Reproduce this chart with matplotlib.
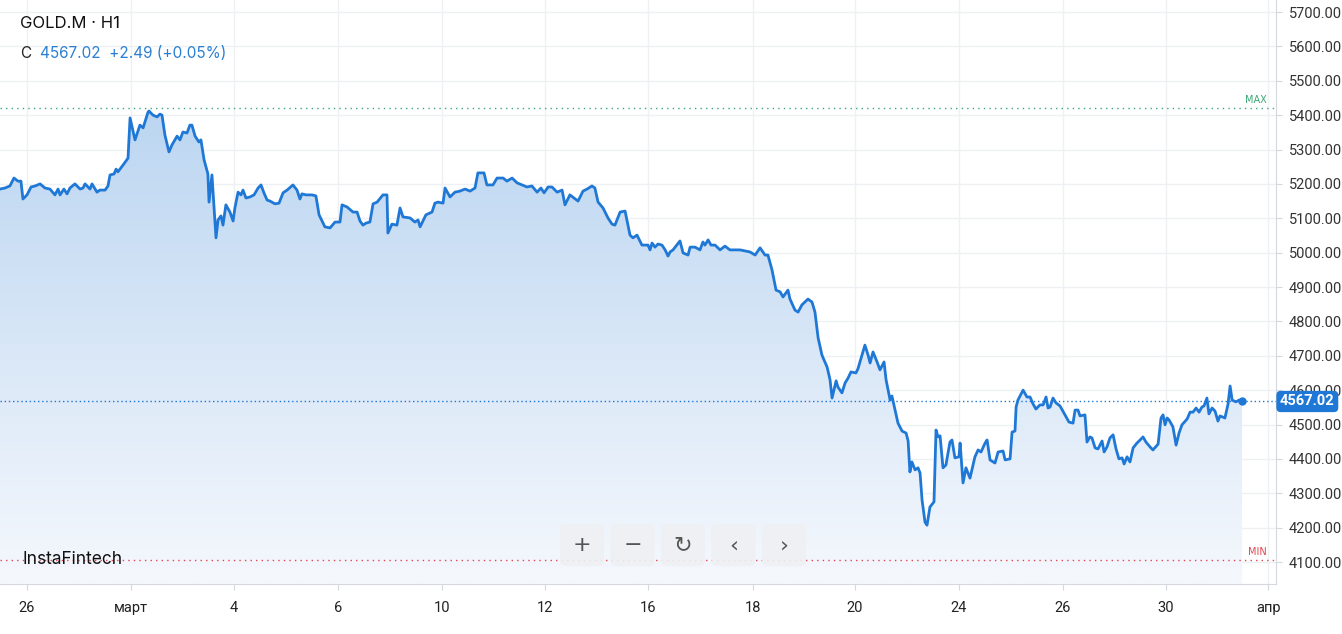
import numpy as np
import matplotlib
matplotlib.use("Agg")
import matplotlib.pyplot as plt
from matplotlib.patches import FancyBboxPatch, Polygon

hours = [0,2.2,4.4,6.2,8,9.3,10.2,12,13.8,15.6,17.8,20,22.2,23.6,24.4,25.8,26.7,28.4,29.8,31.1,33.3,35.6,36.9,37.8,40,40.9,43.1,44.4,46.7,48,48.9,50.7,51.6,52.4,54.7,56.9,57.8,60,62.2,63.6,65.8,66.2,68,69.8,71.1,72,73.3,75.1,76.4,78.7,80,81.3,83.1,84.4,85.3,86.7,88.4,89.3,90.7,92.4,92.9,94.2,96,96.9,98.2,99.1,100.4,102.2,103.6,104.4,105.8,107.1,108,109.3,111.1,112.9,114.7,116,117.3,118.7,120,122.2,124,125.8,127.6,130.2,132,133.3,134.2,136,138.7,140.4,141.8,144.4,146.7,148.9,151.1,152,154.2,156.9,158.7,160,161.3,162.7,164.4,165.8,167.6,170.2,172,172.4,174.2,176.4,177.8,179.1,182.2,184.4,185.8,186.7,189.3,192,193.3,194.7,196.9,197.8,200,202.2,204.4,206.7,208.9,211.1,212.4,215.1,216.4,219.1,220.9,223.6,225.3,227.6,229.8,232,234.2,236.4,238.7,240.4,241.8,243.6,245.3,247.6,249.8,251.1,253.3,255.1,256.9,259.1,260.9,263.1,264.4,265.8,268,270.2,272,273.3,275.6,277.8,280,281.3,283.1,285.3,288,288.9,289.8,291.1,292.4,294.2,295.6,296.9,297.8,299.1,302.2,303.6,305.8,306.7,308.9,311.1,312.4,313.3,314.7,316,317.8,320,322.2,324.4,328.9,333.3,335.6,337.8,340,341.3,343.1,344.9,346.7,348,350.2,351.1,353.3,354.7,356.4,359.1,360.9,362.2,363.6,365.3,367.6,368.9,369.8,371.6,372.4,374.2,375.6,376.9,378.2,380.4,381.3,383.1,384.4,385.8,386.7,388,389.8,391.1,392.9,393.8,395.6,396.4,397.3,399.1,400.9,402.7,403.6,404.4,405.3,406.7,408,408.9,409.8,411.1,412,413.3,415.1,416,416.9,417.8,419.1,420.4,422.2,423.1,424.4,426.2,426.7,427.6,428,429.3,431.1,433.3,434.7,436,437.8,438.7,440,442.2,443.6,445.8,446.7,448.9,449.8,451.1,451.6,452.4,454.7,456.4,457.8,459.1,460.4,462.2,463.6,464.9,465.8,466.7,468,469.3,471.1,473.3,475.1,476.9,477.8,479.1,480,482.2,483.1,484.4,485.3,486.7,488,489.8,490.7,492,493.3,494.7,496,497.3,498.7,499.6,500.9,502.2,503.6,505.3,506.7,508,509.3,511.1,512.4,514.7,516,516.9,517.8,518.7,519.6,521.3,522.7,524,525.3,527.6,528.9,530.2,531.6,532.9,534.2,535.1,536.4,537.3,538.7,540,541.3,542.2,544.4,545.8,546.7,547.6,549.3,550.7,552]
prices = [5185,5188,5194,5217,5208,5208,5156,5168,5191,5194,5200,5188,5185,5174,5168,5185,5168,5185,5171,5188,5200,5185,5188,5200,5185,5200,5176,5182,5182,5194,5226,5229,5243,5235,5255,5275,5392,5328,5371,5363,5409,5412,5400,5395,5403,5400,5342,5293,5313,5339,5328,5351,5348,5371,5371,5339,5322,5328,5270,5229,5147,5226,5043,5095,5107,5080,5139,5118,5092,5130,5176,5168,5182,5159,5162,5168,5188,5197,5174,5153,5150,5142,5144,5174,5182,5197,5182,5156,5171,5168,5168,5165,5110,5075,5072,5089,5089,5139,5133,5118,5118,5092,5080,5086,5089,5142,5147,5168,5168,5057,5083,5080,5130,5104,5101,5089,5095,5075,5110,5118,5144,5147,5144,5188,5162,5176,5179,5185,5179,5188,5232,5232,5197,5197,5217,5217,5208,5217,5203,5197,5191,5194,5176,5188,5174,5191,5191,5176,5182,5139,5168,5159,5150,5179,5185,5194,5188,5147,5130,5101,5083,5080,5118,5121,5051,5043,5051,5022,5022,5008,5028,5016,5025,5022,5008,4990,5002,5008,5034,4999,4993,5016,5016,5008,5031,5022,5037,5022,5022,5008,5019,5008,5008,5002,4993,5014,4993,4993,4950,4891,4886,4871,4891,4865,4833,4827,4848,4865,4856,4827,4752,4702,4667,4630,4577,4627,4609,4592,4621,4635,4653,4650,4662,4702,4731,4702,4679,4711,4682,4659,4682,4630,4571,4583,4557,4504,4481,4475,4452,4362,4391,4368,4374,4359,4280,4216,4207,4260,4275,4484,4464,4467,4374,4382,4449,4455,4403,4406,4446,4368,4330,4374,4344,4406,4426,4420,4446,4455,4397,4388,4420,4423,4397,4400,4478,4481,4551,4571,4600,4580,4580,4560,4545,4557,4557,4580,4548,4551,4577,4563,4554,4528,4507,4504,4542,4542,4525,4528,4449,4464,4461,4432,4429,4452,4420,4435,4461,4470,4429,4400,4403,4385,4406,4391,4432,4446,4455,4464,4449,4435,4426,4443,4519,4528,4499,4519,4513,4493,4440,4475,4499,4516,4536,4536,4548,4536,4551,4554,4577,4531,4548,4539,4510,4525,4519,4560,4612,4571,4566,4571,4567.02]
tick_pos = [12,58.2,104,150.2,196.4,242.2,288,334.7,380,426.2,472.4,518.2,563.6]
tick_labels = ["26","март","4","6","10","12","16","18","20","24","26","30","апр"]
yticks = [4100,4200,4300,4400,4500,4600,4700,4800,4900,5000,5100,5200,5300,5400,5500,5600,5700]
last_price = 4567.02
max_level = 5421
min_level = 4106

W, H = 1342, 634
fig = plt.figure(figsize=(W/100, H/100), dpi=100)
ax = fig.add_axes([0, (H-584)/H, 1276/W, 584/H])
x = np.array(hours); y = np.array(prices)
xmin, xmax = 0, 567.1
ymin, ymax = 4036, 5735
ax.set_xlim(xmin, xmax); ax.set_ylim(ymin, ymax)

for v in yticks:
    ax.axhline(v, color="#eef0f3", lw=1, zorder=0)
for v in tick_pos:
    ax.axvline(v, color="#eef0f3", lw=1, zorder=0)

# gradient fill
grad = np.linspace(0, 1, 256).reshape(-1, 1)
from matplotlib.colors import LinearSegmentedColormap
cmap = LinearSegmentedColormap.from_list("g", ["#f5f8fd", "#bcd6f1"])
im = ax.imshow(grad, extent=[xmin, x[-1], ymin, y.max()], origin="lower", aspect="auto", cmap=cmap, zorder=1)
poly = Polygon(np.column_stack([np.r_[x, x[-1], x[0]], np.r_[y, ymin, ymin]]), closed=True, transform=ax.transData)
im.set_clip_path(poly)

ax.plot(x, y, color="#1f78d6", lw=2, zorder=3)
ax.plot([x[-1]], [y[-1]], "o", color="#1f78d6", ms=5, zorder=4)

ax.axhline(last_price, color="#1f78d6", lw=1, ls=(0, (1, 2)), zorder=2)
ax.axhline(max_level, color="#3aa876", lw=1, ls=(0, (1, 3)), zorder=2)
ax.axhline(min_level, color="#e0454f", lw=1, ls=(0, (1, 3)), zorder=2)
ax.text(563, max_level + 8, "MAX", color="#3aa876", fontsize=7, ha="right", va="bottom")
ax.text(563, min_level + 8, "MIN", color="#e0454f", fontsize=7, ha="right", va="bottom")

for s in ["top", "left"]:
    ax.spines[s].set_visible(False)
ax.spines["right"].set_color("#d5d9de"); ax.spines["bottom"].set_color("#d5d9de")
ax.yaxis.tick_right()
ax.set_yticks(yticks)
ax.set_yticklabels([f"{v:.2f}" for v in yticks], fontsize=10.5, color="#333333", family="Roboto")
ax.tick_params(axis="y", length=4, color="#d5d9de", pad=5)
ax.set_xticks(tick_pos)
ax.set_xticklabels(tick_labels, fontsize=10.5, color="#222222", family="Roboto")
ax.tick_params(axis="x", length=4, color="#d5d9de", pad=8)
ax.patch.set_alpha(0)

# price label box
ax.text(1.0 + 4/1276, last_price, "4567.02", transform=ax.get_yaxis_transform(), color="white",
        fontsize=10.5, fontweight="bold", family="Roboto", va="center", ha="left",
        bbox=dict(boxstyle="round,pad=0.25,rounding_size=0.3", fc="#1f78d6", ec="none"), zorder=10, clip_on=False)

fig.text(20/W, 1-24/H, "GOLD.M · H1", fontsize=12, color="#111111", family="Inter", va="center")
fig.text(20/W, 1-53/H, "C", fontsize=11, color="#222222", family="Inter", va="center")
fig.text(40/W, 1-53/H, "4567.02  +2.49 (+0.05%)", fontsize=11, color="#2a7fd4", family="Inter", va="center")
fig.text(22/W, 1-560/H, "InstaFintech", fontsize=12.5, color="#111111", family="Inter", va="center")

# buttons
btns = ["+", "−", "↻", "‹", "›"]
for i, b in enumerate(btns):
    x0 = 560 + i * 50.5
    fig.patches.append(FancyBboxPatch((x0/W, 1-566/H), 44/W, 42/H, boxstyle="round,pad=0,rounding_size=0.006",
                                      transform=fig.transFigure, fc="#eef0f3", ec="none", alpha=0.9))
    fig.text((x0+22)/W, 1-545/H, b, ha="center", va="center", fontsize=16, color="#555555", family="DejaVu Sans")

fig.savefig("out.png", dpi=100)
